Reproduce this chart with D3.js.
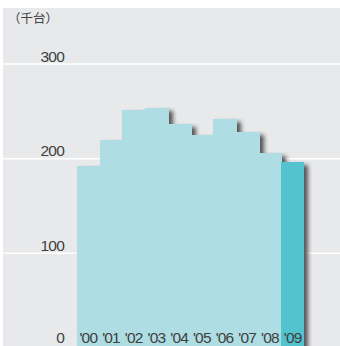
<!DOCTYPE html>
<html>
<head>
<meta charset="utf-8">
<script src="https://cdn.jsdelivr.net/npm/d3@7"></script>
<style>
  body { margin: 0; background: #fff; }
  svg text { font-family: "Liberation Sans", Arial, sans-serif; fill: #404040; }
</style>
</head>
<body>
<svg id="chart" width="340" height="346"></svg>
<script>
// data (thousand units)
var years  = [ "'00", "'01", "'02", "'03", "'04", "'05", "'06", "'07", "'08", "'09" ];
var values = [ 192, 220, 251, 254, 237, 225, 242, 228, 206, 196 ];
var ticks  = [ 0, 100, 200, 300 ];
var unitLabel = "（千台）";

window.addEventListener( "load", makeChart );
function makeChart() {
    var svg = d3.select( "#chart" );

    var x = d3.scaleBand().domain( years ).range( [ 77, 304 ] ).padding( 0 );
    var y = d3.scaleLinear().domain( [ 0, 300 ] ).range( [ 348, 64 ] );

    var f = svg.append( "defs" ).append( "filter" ).attr( "id", "shadow" )
        .attr( "x", "-10%" ).attr( "y", "-10%" )
        .attr( "width", "130%" ).attr( "height", "130%" );
    f.append( "feDropShadow" )
        .attr( "dx", 4 ).attr( "dy", 3 ).attr( "stdDeviation", 2.2 )
        .attr( "flood-color", "#222" ).attr( "flood-opacity", 0.75 );

    // background panel
    svg.append( "rect" )
        .attr( "x", 3 ).attr( "y", 8 ).attr( "width", 337 ).attr( "height", 338 )
        .attr( "fill", "#e8e9eb" );

    // gridlines
    svg.selectAll( "line.grid" ).data( ticks.filter( d => d > 0 ) ).enter()
        .append( "line" ).attr( "class", "grid" )
        .attr( "x1", 3 ).attr( "x2", 340 )
        .attr( "y1", d => y(d) ).attr( "y2", d => y(d) )
        .attr( "stroke", "#fff" ).attr( "stroke-width", 1.5 );

    // tick labels
    svg.selectAll( "text.tick" ).data( ticks ).enter()
        .append( "text" ).attr( "class", "tick" )
        .attr( "x", 64 ).attr( "y", d => Math.min( y(d) - 2.5, 343 ) )
        .attr( "text-anchor", "end" )
        .attr( "font-size", 15.5 ).attr( "letter-spacing", -0.8 )
        .text( d => d );

    svg.append( "text" )
        .attr( "x", 8 ).attr( "y", 23 )
        .attr( "font-size", 12.5 )
        .style( "font-family", "'Noto Sans CJK JP', sans-serif" )
        .text( unitLabel );

    // bars (one group so the shadow falls only outside the outline)
    var g = svg.append( "g" ).attr( "filter", "url(#shadow)" );
    g.selectAll( "rect" ).data( values ).enter().append( "rect" )
        .attr( "x", (d,i) => Math.round( x( years[i] ) ) )
        .attr( "y", d => Math.round( y(d) ) )
        .attr( "width", (d,i) => Math.round( x( years[i] ) + x.bandwidth() ) - Math.round( x( years[i] ) ) + (i < years.length - 1 ? 1 : 0) )
        .attr( "height", d => 360 - Math.round( y(d) ) )
        .attr( "shape-rendering", "crispEdges" )
        .attr( "fill", (d,i) => i === years.length - 1 ? "#52c3cf" : "#aedde3" );

    // year labels
    svg.selectAll( "text.year" ).data( years ).enter()
        .append( "text" ).attr( "class", "year" )
        .attr( "x", d => x(d) + x.bandwidth()/2 )
        .attr( "y", 343 )
        .attr( "text-anchor", "middle" )
        .attr( "font-size", 15.5 ).attr( "letter-spacing", -0.8 )
        .text( d => d );
}
</script>
</body>
</html>
